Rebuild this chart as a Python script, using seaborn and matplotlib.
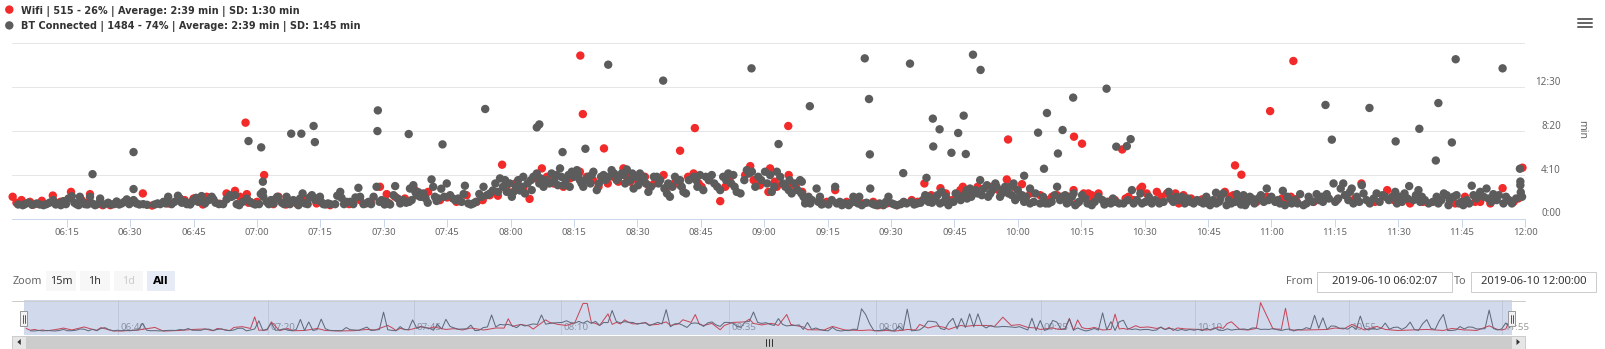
import matplotlib
matplotlib.use("Agg")
import matplotlib.pyplot as plt
import numpy as np
import pandas as pd
import seaborn as sns
from matplotlib.patches import Rectangle, Polygon
from matplotlib.transforms import ScaledTranslation
from matplotlib.ticker import FixedLocator, FuncFormatter

# ---------------------------------------------------------------------------
# Data: time of each sample in minutes after 06:00, duration in seconds
# ---------------------------------------------------------------------------
wifi_min = [
    2.2, 3.1, 4.3, 6.3, 9.1, 11.7, 16.0, 19.7, 20.5, 23.5, 33.0, 35.2, 39.0,
    45.0, 48.1, 51.2, 52.8, 54.8, 57.3, 57.6, 58.0, 61.7, 63.9, 65.1, 71.6,
    74.1, 77.3, 84.4, 89.1, 90.7, 91.3, 92.7, 95.0,
    97.4, 100.5, 103.3, 109.6, 112.0, 115.1, 118.0, 119.1, 124.5, 127.4, 128.6,
    132.5, 136.4, 136.5, 137.1, 138.0, 140.8, 142.1, 144.3, 145.5, 146.7, 148.3,
    151.8, 152.6, 156.2, 157.0, 160.1, 160.1, 163.3, 163.6, 164.5, 165.2, 169.6,
    170.8, 176.7, 177.5, 181.0, 181.4, 183.0, 185.7, 185.8, 186.0,
    196.8, 203.5, 207.0, 211.4, 214.9, 217.9, 221.7, 224.4, 226.4, 228.0, 233.9,
    237.4, 237.7, 241.0, 245.3, 248.1, 250.8, 252.0, 253.2, 253.3, 254.0, 255.2,
    255.6, 256.7, 257.5, 257.9, 259.1, 264.7, 266.2, 269.0, 269.4, 272.9, 275.3,
    277.3, 278.1, 279.2, 283.6,
    287.8, 289.0, 291.0, 291.4, 292.9, 298.9, 299.7, 305.2, 306.0, 317.8, 321.3,
    327.4, 332.8, 345.8, 348.2, 349.4, 354.7, 357.3, 359.4,
]
wifi_sec = [
    124, 90, 105, 95, 101, 131, 152, 90, 139, 76, 143, 74, 86,
    114, 124, 84, 143, 158, 547, 139, 90, 248, 82, 124, 109,
    86, 76, 105, 181, 139, 86, 124, 114,
    162, 152, 105, 133, 95, 133, 307, 162, 112, 286, 238,
    181, 267, 930, 596, 238, 181, 400, 238, 210, 286, 210,
    238, 190, 248, 181, 387, 190, 257, 516, 200, 181, 99,
    181, 299, 219, 152, 286, 181, 528, 248, 200,
    162, 86, 76, 76, 105, 200, 173, 105, 162, 162, 181,
    223, 451, 196, 133, 124, 114, 124, 162, 467, 86, 427,
    143, 143, 133, 105, 143, 394, 124, 171, 181, 152, 143,
    143, 86, 133, 109,
    105, 152, 133, 303, 250, 124, 613, 899, 95, 133, 200,
    162, 86, 124, 95, 95, 173, 95, 290,
]
wifi_band_min = [
    5.0, 7.2, 13.5, 18.5, 25.3, 29.8, 42.9, 47.2, 56.0, 60.0,
    66.9, 69.4, 72.7, 81.8, 86.9, 94.0,
    99.0, 105.0, 107.2, 113.4, 117.0, 121.1, 123.0, 126.0, 130.2, 134.1,
    139.5, 143.0, 147.5, 150.0, 154.0, 159.0, 162.0, 167.0, 172.0, 175.5,
    179.0, 182.5, 187.5, 189.0,
    190.0, 194.8, 199.5, 205.8, 209.0, 213.2, 216.3, 219.5, 223.0, 227.0,
    230.5, 235.5, 239.0, 243.0, 246.8, 249.3, 251.5, 258.5, 261.5, 263.0,
    265.5, 267.5, 270.5, 274.0, 276.5, 281.0,
    286.0, 290.2, 294.0, 296.5, 302.5, 304.2, 304.6, 305.7, 310.0, 315.5,
    319.8, 324.5, 329.0, 335.9, 339.8, 343.5, 351.8, 356.0, 358.4,
]
wifi_band_sec = [
    86, 80, 95, 105, 76, 95, 105, 80, 124, 95,
    80, 86, 124, 82, 95, 95,
    124, 120, 95, 105, 130, 200, 171, 229, 200, 229,
    219, 200, 238, 219, 200, 210, 238, 219, 238, 248,
    190, 210, 181, 152,
    100, 95, 95, 95, 86, 90, 95, 133, 143, 181,
    181, 162, 181, 143, 105, 133, 105, 124, 95, 105,
    114, 105, 143, 124, 105, 114,
    95, 124, 105, 95, 114, 95, 124, 110, 95, 105,
    114, 95, 105, 95, 105, 86, 86, 105, 114,
]

bt_min = [
    5.1, 5.9, 7.9, 10.2, 11.8, 13.0, 14.2, 15.4, 16.2, 17.3, 18.1, 19.3, 20.5,
    21.1, 21.7, 22.9, 24.8, 26.8, 28.0, 29.2, 30.8, 30.8, 30.8, 31.5, 33.1, 37.1,
    37.9, 39.0, 39.8, 41.3, 42.2, 43.4, 45.0, 46.1, 46.9, 47.7, 49.3, 49.7, 52.8,
    53.6, 54.8, 55.2, 57.6, 58.0, 59.6, 61.0, 61.4, 61.4, 61.5, 62.3, 63.9, 64.8,
    65.9, 67.0, 67.8, 68.1, 68.6, 69.8, 70.5, 70.8, 71.4, 73.0, 73.4, 73.7, 73.8,
    74.9, 75.7, 77.3, 79.7, 80.0, 81.2, 82.0, 84.0, 84.4, 85.2, 86.4, 88.3, 88.5,
    88.6, 89.5, 90.7, 92.3, 92.7, 93.9, 94.6, 95.9, 96.2,
    97.0, 97.8, 98.6, 99.4, 101.3, 101.7, 102.1, 102.9, 103.9, 104.9, 105.7,
    106.9, 107.6, 109.2, 110.0, 111.2, 113.6, 114.0, 114.4, 115.1, 117.5, 118.7,
    119.1, 120.7, 121.8, 122.6, 123.0, 123.4, 125.4, 126.2, 126.2, 126.8, 127.8,
    129.7, 130.9, 131.7, 132.3, 132.5, 133.7, 134.5, 135.7, 136.4, 137.2, 137.7,
    138.4, 139.6, 140.4, 142.0, 143.1, 143.2, 143.9, 145.1, 146.3, 147.5, 148.3,
    149.1, 150.6, 151.4, 152.6, 154.6, 155.4, 156.1, 157.0, 157.7, 158.9, 160.1,
    160.9, 163.3, 164.8, 165.6, 167.6, 169.6, 171.5, 172.7, 173.5, 175.9, 177.0,
    177.1, 177.9, 180.2, 181.4, 181.8, 183.4, 183.8, 185.8, 186.5, 188.5, 189.3,
    190.1, 190.8, 190.9,
    188.9, 189.7, 192.4, 192.8, 194.0, 196.8, 197.2, 198.4, 201.1, 201.5, 203.1,
    203.8, 204.8, 205.0, 205.1, 205.5, 206.6, 209.4, 210.2, 211.4, 212.9, 213.7,
    214.5, 214.9, 218.1, 218.4, 218.9, 219.7, 219.9, 220.0, 221.5, 221.6, 222.0,
    223.2, 223.6, 224.3, 225.9, 226.0, 227.2, 227.2, 227.7, 228.0, 228.7, 229.4,
    229.5, 231.1, 231.2, 231.5, 232.7, 233.5, 234.7, 235.8, 237.0, 237.8, 239.0,
    239.4, 241.0, 241.5, 241.5, 242.9, 242.9, 244.8, 245.3, 246.2, 246.9, 247.3,
    249.3, 249.5, 250.0, 250.6, 251.2, 251.6, 253.1, 253.2, 253.6, 255.2, 257.5,
    259.1, 261.0, 261.1, 263.1, 263.3, 265.0, 265.8, 266.7, 267.0, 267.4, 269.0,
    269.4, 271.0, 271.7, 275.7, 276.1, 278.1, 278.8, 280.8, 283.2, 285.1,
    283.9, 285.5, 286.9, 287.0, 288.6, 289.4, 291.4, 291.8, 293.4, 293.8, 294.9,
    296.9, 298.9, 299.3, 300.9, 302.7, 303.2, 304.8, 306.8, 307.6, 309.1, 310.7,
    311.9, 312.8, 313.1, 314.3, 314.7, 315.1, 317.0, 317.4, 319.0, 319.4, 321.4,
    321.8, 323.2, 323.3, 324.9, 326.9, 329.3, 329.4, 329.7, 330.4, 332.6, 333.6,
    334.8, 335.0, 335.2, 335.6, 338.9, 339.1, 339.5, 339.5, 341.5, 341.9, 342.7,
    343.1, 343.6, 345.0, 345.4, 347.4, 347.8, 349.4, 350.9, 351.3, 352.5, 353.3,
    354.7, 354.9, 356.9, 358.8, 358.9, 358.9, 359.0,
]
bt_sec = [
    82, 90, 86, 82, 105, 86, 99, 114, 128, 82, 124, 82, 124,
    253, 76, 114, 90, 97, 86, 109, 105, 379, 168, 86, 82, 82,
    95, 124, 82, 130, 90, 82, 105, 95, 128, 86, 124, 109, 109,
    133, 133, 82, 114, 442, 80, 406, 152, 210, 124, 95, 86, 124,
    90, 124, 82, 484, 105, 76, 484, 143, 86, 133, 528, 436, 105,
    124, 82, 82, 152, 118, 95, 95, 175, 124, 82, 95, 181, 499,
    617, 105, 95, 133, 185, 86, 105, 482, 171,
    190, 133, 124, 143, 223, 181, 124, 114, 423, 200, 133,
    105, 114, 187, 86, 86, 181, 625, 133, 143, 229, 219,
    152, 152, 219, 181, 238, 143, 238, 257, 520, 537, 181,
    257, 248, 286, 379, 190, 248, 267, 276, 219, 181, 398,
    238, 267, 162, 248, 878, 238, 276, 219, 257, 280, 219,
    171, 257, 238, 152, 238, 219, 787, 143, 124, 238, 219,
    152, 238, 248, 162, 248, 162, 257, 248, 152, 276, 857,
    267, 181, 267, 248, 152, 425, 238, 162, 143, 219, 124,
    95, 641, 86,
    210, 86, 171, 95, 86, 181, 86, 76, 124, 95, 76,
    914, 682, 366, 171, 86, 76, 124, 86, 76, 259, 86,
    884, 95, 133, 232, 95, 90, 570, 411, 509, 86, 152,
    105, 76, 375, 488, 124, 133, 587, 368, 114, 171, 935,
    143, 219, 848, 133, 190, 143, 200, 124, 181, 143, 200,
    105, 133, 244, 95, 86, 171, 490, 86, 284, 602, 86,
    181, 371, 105, 505, 133, 86, 690, 143, 76, 133, 76,
    124, 741, 95, 95, 410, 86, 413, 453, 162, 86, 143,
    86, 124, 86, 152, 114, 105, 124, 95, 95, 86,
    86, 76, 147, 86, 143, 76, 95, 139, 133, 76, 124,
    114, 171, 105, 95, 158, 76, 86, 139, 76, 105, 139,
    124, 648, 139, 450, 200, 95, 200, 133, 171, 86, 190,
    143, 631, 86, 143, 124, 152, 440, 86, 124, 185, 105,
    162, 512, 95, 124, 331, 124, 86, 659, 133, 76, 434,
    124, 909, 95, 76, 187, 133, 152, 171, 114, 139, 105,
    857, 86, 86, 284, 211, 190, 150,
]
bt_band_min = [
    3.5, 4.6, 6.8, 8.6, 9.5, 10.9, 12.4, 13.6, 14.8, 16.8,
    17.8, 18.7, 19.9, 21.0, 22.3, 23.8, 25.5, 26.2, 27.4, 28.6,
    29.8, 31.1, 32.2, 34.0, 35.8, 36.5, 38.4, 40.5, 41.8, 43.0,
    44.2, 44.6, 45.6, 46.5, 48.6, 50.2, 51.0, 52.0, 53.2, 54.0,
    55.8, 56.6, 58.4, 59.0, 60.5, 60.9, 62.8, 63.3, 64.3, 66.4,
    67.4, 69.2, 70.2, 72.0, 72.5, 74.3, 75.2, 76.2, 76.8, 78.5,
    79.0, 80.6, 82.8, 83.3, 85.8, 87.0, 87.6, 89.0, 90.2, 91.5,
    93.3, 95.3, 96.0,
    96.6, 97.5, 98.2, 99.9, 100.4, 102.5, 103.6, 104.3, 106.3, 108.4,
    108.9, 110.6, 111.8, 112.6, 113.1, 115.8, 116.4, 117.0, 118.2, 119.8,
    120.3, 121.3, 122.2, 124.0, 124.8, 125.0, 126.8, 127.1, 128.4, 129.2,
    130.3, 131.2, 132.0, 133.1, 134.0, 135.0, 136.0, 136.8, 137.8, 138.9,
    139.2, 140.9, 141.4, 142.5, 144.5, 145.6, 146.8, 147.1, 148.8, 149.6,
    150.2, 151.0, 152.0, 153.2, 153.9, 155.0, 156.4, 157.3, 158.3, 159.5,
    160.5, 161.5, 162.2, 163.9, 164.2, 166.2, 166.9, 168.2, 168.9, 170.3,
    171.0, 172.2, 173.0, 174.4, 175.3, 176.4, 178.6, 179.3, 180.7, 182.4,
    183.0, 184.4, 185.0, 186.0, 187.2, 187.9, 188.8, 189.8,
    190.5, 191.3, 193.2, 193.6, 195.2, 196.0, 197.9, 199.0, 200.0, 200.5,
    202.2, 202.5, 204.2, 206.0, 207.3, 208.2, 208.8, 210.8, 212.3, 213.0,
    215.5, 216.2, 217.0, 217.5, 219.0, 220.5, 221.0, 222.5, 223.0, 224.8,
    225.3, 226.5, 227.9, 229.0, 230.0, 230.5, 232.0, 233.0, 234.0, 235.0,
    236.2, 236.6, 238.2, 238.6, 240.0, 240.4, 242.0, 243.8, 244.2, 246.0,
    246.6, 248.0, 248.7, 250.4, 252.2, 252.8, 254.5, 256.0, 256.5, 258.2,
    260.0, 260.5, 262.0, 262.5, 264.0, 266.0, 268.2, 270.2, 272.5, 273.5,
    274.5, 276.8, 277.5, 279.5, 280.2, 281.6, 282.4, 284.4,
    284.6, 286.2, 287.6, 288.0, 289.9, 290.5, 292.3, 292.8, 294.3, 295.4,
    296.0, 297.5, 298.2, 300.0, 301.5, 302.0, 303.8, 305.5, 306.2, 308.3,
    308.8, 309.8, 311.3, 312.2, 313.6, 315.8, 316.4, 318.2, 318.6, 320.2,
    320.8, 322.5, 324.2, 325.6, 326.3, 327.8, 328.6, 330.9, 331.5, 332.2,
    334.2, 336.3, 337.2, 338.2, 340.2, 340.8, 342.2, 343.8, 344.4, 346.2,
    346.8, 348.5, 350.2, 352.0, 353.8, 355.5, 356.2, 357.9, 359.3,
]
bt_band_sec = [
    80, 76, 78, 80, 76, 90, 80, 76, 82, 90,
    76, 95, 80, 86, 82, 80, 80, 82, 80, 95,
    82, 95, 80, 78, 80, 86, 86, 95, 114, 95,
    80, 95, 118, 110, 105, 90, 82, 82, 120, 124,
    76, 95, 95, 86, 82, 140, 82, 105, 110, 82,
    105, 95, 114, 82, 120, 114, 95, 80, 86, 82,
    130, 82, 82, 120, 86, 82, 124, 95, 80, 80,
    114, 90, 95,
    105, 150, 150, 115, 90, 100, 170, 124, 115, 95,
    140, 80, 95, 140, 124, 160, 200, 152, 181, 200,
    124, 181, 160, 200, 219, 162, 200, 229, 219, 200,
    219, 190, 238, 219, 181, 238, 248, 200, 219, 200,
    248, 200, 238, 219, 257, 238, 248, 200, 257, 238,
    190, 219, 200, 181, 238, 200, 171, 200, 181, 219,
    181, 143, 219, 219, 181, 238, 219, 200, 181, 238,
    219, 200, 181, 143, 219, 257, 238, 219, 200, 181,
    267, 200, 181, 219, 200, 162, 143, 105,
    124, 105, 124, 80, 80, 105, 95, 86, 76, 90,
    86, 124, 90, 80, 86, 76, 95, 80, 82, 95,
    80, 86, 90, 105, 124, 105, 133, 95, 124, 95,
    143, 105, 162, 124, 162, 143, 171, 124, 162, 181,
    143, 162, 181, 133, 162, 124, 124, 95, 143, 124,
    86, 95, 133, 124, 95, 124, 95, 114, 86, 95,
    105, 80, 86, 114, 86, 105, 105, 95, 105, 86,
    95, 95, 124, 86, 114, 86, 105, 95,
    124, 105, 95, 124, 105, 86, 105, 80, 95, 114,
    86, 133, 95, 124, 105, 86, 124, 105, 86, 86,
    124, 95, 105, 95, 114, 114, 171, 105, 152, 124,
    95, 105, 114, 95, 133, 105, 124, 95, 143, 114,
    133, 105, 86, 95, 105, 143, 105, 133, 86, 105,
    86, 114, 124, 95, 133, 124, 105, 114, 124,
]

SERIES = ["Wifi", "BT Connected"]
PALETTE = {"Wifi": "#f22a2a", "BT Connected": "#5c5c5c"}
LEGEND_LABELS = [
    "Wifi | 515 - 26% | Average: 2:39 min | SD: 1:30 min",
    "BT Connected | 1484 - 74% | Average: 2:39 min | SD: 1:45 min",
]
X_START, X_END = 2 + 7 / 60, 360.0          # 06:02:07 .. 12:00:00
X_TICKS = list(range(15, 361, 15))
Y_TICKS = [0, 250, 500, 750, 1000]
NAV_TICKS = [(118, "06:40"), (268, "07:20"), (414, "07:45"), (561, "08:10"),
             (729, "08:35"), (876, "09:00"), (1041, "09:25"), (1195, "10:10"),
             (1349, "10:55"), (1502, "11:55")]
RANGE_BUTTONS = ["15m", "1h", "1d", "All"]
DATE_FROM, DATE_TO = "2019-06-10 06:02:07", "2019-06-10 12:00:00"

# ---------------------------------------------------------------------------
sns.set_theme(style="white")
plt.rcParams["font.family"] = ["Noto Sans", "DejaVu Sans"]

W, H, DPI = 1606, 349, 100
PT = 72 / DPI  # points per pixel
fig = plt.figure(figsize=(W / DPI, H / DPI), dpi=DPI)
fig.patch.set_facecolor("white")


def box(l, t, r, b):
    return [l / W, 1 - b / H, (r - l) / W, (b - t) / H]


PL, PR = 12.3, 1525.0
ax = fig.add_axes(box(PL, 43.3, PR, 218.5))

all_wifi_min = wifi_min + wifi_band_min
all_wifi_sec = wifi_sec + wifi_band_sec
all_bt_min = bt_min + bt_band_min
all_bt_sec = bt_sec + bt_band_sec
df = pd.DataFrame({
    "minute": all_wifi_min + all_bt_min,
    "seconds": all_wifi_sec + all_bt_sec,
    "series": ["Wifi"] * len(all_wifi_min) + ["BT Connected"] * len(all_bt_min),
})
sns.scatterplot(data=df, x="minute", y="seconds", hue="series",
                hue_order=SERIES, palette=PALETTE, s=(8.4 * PT) ** 2,
                linewidth=0, alpha=1, legend=False, ax=ax, zorder=3)
for coll in ax.collections:
    coll.set_clip_on(False)

ax.set_xlim(X_START, X_END)
ax.set_ylim(0, 1000)
ax.set_xlabel("")
ax.set_ylabel("")
for side in ["top", "left", "right"]:
    ax.spines[side].set_visible(False)
ax.spines["bottom"].set_color("#ccd6eb")
ax.spines["bottom"].set_linewidth(1 * PT)
ax.xaxis.set_major_locator(FixedLocator(X_TICKS))
ax.xaxis.set_major_formatter(FuncFormatter(
    lambda v, p: f"{6 + int(v) // 60:02d}:{int(v) % 60:02d}"))
ax.yaxis.set_major_locator(FixedLocator(Y_TICKS))
ax.yaxis.set_major_formatter(FuncFormatter(
    lambda v, p: "" if v >= 1000 else f"{int(v) // 60}:{int(v) % 60:02d}"))
ax.yaxis.tick_right()
ax.grid(axis="y", color="#e6e6e6", linewidth=1 * PT)
ax.grid(axis="x", visible=False)
ax.set_axisbelow(True)
ax.tick_params(axis="x", length=8 * PT, width=1 * PT, color="#ccd6eb",
               labelsize=6.9, labelcolor="#666666", pad=1.5 * PT, bottom=True)
ax.tick_params(axis="y", length=0, labelsize=7.1, labelcolor="#666666",
               pad=36 * PT, right=True, left=False)
for lbl in ax.get_yticklabels():
    lbl.set_horizontalalignment("right")
    lbl.set_transform(lbl.get_transform() +
                      ScaledTranslation(0, 6 / DPI, fig.dpi_scale_trans))
ax.set_facecolor("white")

# ---------------------------------------------------------------------------
# Navigator
# ---------------------------------------------------------------------------
nav = fig.add_axes(box(PL, 300, PR, 335), zorder=2)
NAV_L, NAV_R = 24.5, 1512.0
ppm = (NAV_R - NAV_L) / (X_END - X_START)
nav.set_xlim(X_START - (NAV_L - PL) / ppm, X_END + (PR - NAV_R) / ppm)
nav.axis("off")

for px, txt in NAV_TICKS:
    fxa = (px - PL) / (PR - PL)
    nav.plot([fxa, fxa], [0, 1], transform=nav.transAxes, color="#e6e6e6",
             lw=1 * PT, zorder=1)
    nav.text(fxa + 2.5 / (PR - PL), (335 - 327.5) / 35, txt,
             transform=nav.transAxes, fontsize=7.0, color="#999999",
             ha="left", va="center", zorder=2)

# one-minute averages per series for the overview line
df["bin"] = np.floor(df["minute"]).astype(int) + 0.5
nav_df = (df.groupby(["series", "bin"], sort=True)["seconds"].mean()
          .reset_index())
sns.lineplot(data=nav_df, x="bin", y="seconds", hue="series",
             hue_order=SERIES, palette=PALETTE, linewidth=1 * PT,
             legend=False, ax=nav, zorder=3, estimator=None)
nav.set_ylim(0, nav_df["seconds"].max() * 1.08)
nav.axvspan(X_START, X_END, color="#6685c2", alpha=0.3, lw=0, zorder=5)
nav.set_xlabel("")
nav.set_ylabel("")

# ---------------------------------------------------------------------------
# Overlay: legend, menu, range selector, scrollbar, handles
# ---------------------------------------------------------------------------
ov = fig.add_axes([0, 0, 1, 1], zorder=10)
ov.set_xlim(0, W)
ov.set_ylim(H, 0)
ov.axis("off")
ov.patch.set_alpha(0)

# legend
leg_y = [11.6, 26.6]
ov.scatter([9.3, 9.3], [9.6, 25.4], s=(8.4 * PT) ** 2,
           c=[PALETTE[s] for s in SERIES], linewidths=0)
leg_txt = [ov.text(21, y, t, fontsize=8, fontweight="bold", color="#333333",
                   family=["DejaVu Sans"], ha="left", va="center")
           for y, t in zip(leg_y, LEGEND_LABELS)]
fig.canvas.draw()
w = leg_txt[1].get_window_extent().width
for t in leg_txt:
    t.set_fontsize(8 * 339 / w)

# menu icon
for y in (19.3, 22.9, 26.5):
    ov.plot([1578.5, 1592.5], [y, y], color="#666666", lw=2 * PT,
            solid_capstyle="round")

# y-axis title
ov.text(1582, 130, "min", rotation=270, fontsize=7.6, color="#666666",
        ha="center", va="center")

# range selector
ov.text(12.3, 281, "Zoom", fontsize=7.8, color="#666666", ha="left",
        va="center")
btn_x = [(46, 76), (80, 110), (114, 143), (147.5, 175)]
for (l, r), lab in zip(btn_x, RANGE_BUTTONS):
    sel = lab == "All"
    dis = lab == "1d"
    ov.add_patch(Rectangle((l, 271), r - l, 20,
                           fc="#e6ebf5" if sel else "#f7f7f7", ec="none"))
    ov.text((l + r) / 2, 281.3, lab, fontsize=7.8,
            color="#cccccc" if dis else ("#000000" if sel else "#333333"),
            fontweight="bold" if sel else "normal", ha="center", va="center",
            family=["DejaVu Sans"] if sel else None)

ov.text(1313, 281, "From", fontsize=7.8, color="#666666", ha="right",
        va="center")
ov.text(1460, 281, "To", fontsize=7.8, color="#666666", ha="center",
        va="center")
for (l, r), txt in zip([(1317, 1452), (1471, 1596)], [DATE_FROM, DATE_TO]):
    ov.add_patch(Rectangle((l, 271.5), r - l, 20, fc="white", ec="#cccccc",
                           lw=1 * PT))
    ov.text((l + r) / 2, 281.5, txt, fontsize=8.1, color="#333333",
            ha="center", va="center")

# navigator outline
ov.plot([PL, PR], [300.5, 300.5], color="#cccccc", lw=1 * PT)

# navigator handles
for cx in (NAV_L - 0.5, NAV_R):
    ov.add_patch(Rectangle((cx - 3.5, 311), 7, 15, fc="#f2f2f2",
                           ec="#999999", lw=1 * PT))
    for dx in (-1, 1):
        ov.plot([cx + dx, cx + dx], [314.5, 322.5], color="#333333",
                lw=0.8 * PT)

# scrollbar
ov.add_patch(Rectangle((PL, 335.5), PR - PL, 13.5, fc="#cccccc", ec="none"))
for l in (PL, PR - 14):
    ov.add_patch(Rectangle((l, 335.5), 14, 13.5, fc="#e6e6e6", ec="#cccccc",
                           lw=1 * PT))
ov.add_patch(Polygon([[PL + 8.5, 339], [PL + 8.5, 345], [PL + 5, 342]],
                     closed=True, fc="#333333", ec="none"))
ov.add_patch(Polygon([[PR - 8.5, 339], [PR - 8.5, 345], [PR - 5, 342]],
                     closed=True, fc="#333333", ec="none"))
mid = (PL + PR) / 2
for dx in (-3, 0, 3):
    ov.plot([mid + dx, mid + dx], [339, 345.5], color="#333333", lw=1 * PT)

fig.savefig("out.png", dpi=DPI, facecolor="white")
